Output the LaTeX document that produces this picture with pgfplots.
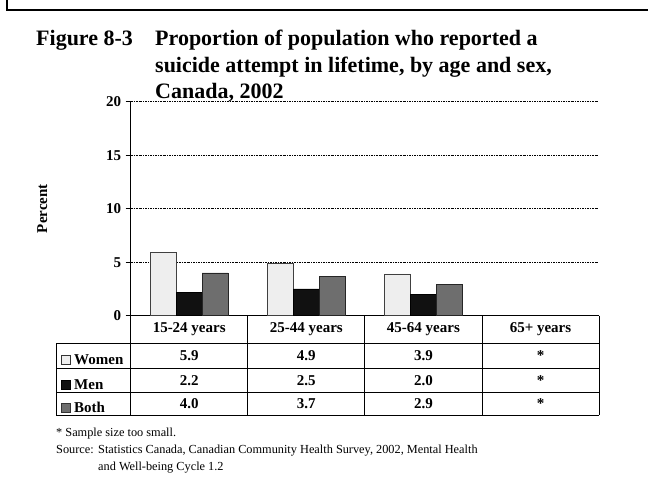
\documentclass[border=0pt]{standalone}
\usepackage{pgfplots}
\pgfplotsset{compat=1.18}
\usepackage{fontspec}
\setmainfont{Liberation Serif}
\definecolor{women}{HTML}{EEEEEE}
\definecolor{men}{HTML}{111111}
\definecolor{both}{HTML}{6E6E6E}
\newcommand{\tf}{\bfseries\fontsize{15bp}{17bp}\selectfont}
\newcommand{\ttl}{\bfseries\fontsize{22bp}{26bp}\selectfont}
\begin{document}
\begin{tikzpicture}[x=1bp,y=1bp]
\useasboundingbox (0,0) rectangle (648,489);
% frame
\draw[line width=1.6bp] (7,489) -- (7,479) -- (648,479);
% title
\node[anchor=base west,inner sep=0,font=\ttl] at (36,443) {Figure 8-3};
\node[anchor=base west,inner sep=0,font=\ttl] at (155,443) {Proportion of population who reported a};
\node[anchor=base west,inner sep=0,font=\ttl] at (155,416.5) {suicide attempt in lifetime, by age and sex,};
\node[anchor=base west,inner sep=0,font=\ttl] at (155,390) {Canada, 2002};
\begin{axis}[
  at={(130.7bp,173.3bp)}, anchor=south west,
  scale only axis, width=468.3bp, height=214bp,
  xmin=-0.5, xmax=3.5, ymin=0, ymax=20,
  axis x line*=bottom, axis y line*=left,
  axis line style={-, line width=0.9bp},
  xtick=\empty,
  ytick={0,5,10,15,20},
  tick align=outside, major tick length=5bp,
  tick style={black, line width=0.8bp},
  yticklabel style={font=\tf, xshift=-1bp},
  /pgf/number format/assume math mode=true,
  ymajorgrids,
  grid style={black, line width=0.7bp, dash pattern=on 2bp off 1bp on 0.8bp off 1bp},
  ylabel={Percent},
  ylabel style={font=\tf, at={(axis description cs:-0.189,0.5)}, anchor=center},
  ybar=0pt, bar width=26bp,
  clip=false,
]
\addplot[fill=women, draw=black!75, line width=0.7bp] coordinates {(0,5.9) (1,4.9) (2,3.9)};
\addplot[fill=men, draw=black, line width=0.7bp] coordinates {(0,2.2) (1,2.5) (2,2.0)};
\addplot[fill=both, draw=black!85, line width=0.7bp] coordinates {(0,4.0) (1,3.7) (2,2.9)};
\end{axis}
% data table
\begin{scope}[line width=0.8bp]
\draw (56,145.7) -- (599,145.7);
\draw (56,120.7) -- (599,120.7);
\draw (56,97) -- (599,97);
\draw (56,74) -- (599,74);
\draw (56,145.7) -- (56,74);
\foreach \xx in {130.7,247.8,364.85,481.9,599} \draw (\xx,173.3) -- (\xx,74);
\end{scope}
\foreach \xx/\lab in {189.2/15-24 years,306.3/25-44 years,423.4/45-64 years,540.5/65+ years}
  \node[font=\tf] at (\xx,159.5) {\lab};
\foreach \xx/\a/\b/\c in {189.2/5.9/2.2/4.0,306.3/4.9/2.5/3.7,423.4/3.9/2.0/2.9,540.5/*/*/*}{
  \node[font=\tf] at (\xx,133.2) {\a};
  \node[font=\tf] at (\xx,108.8) {\b};
  \node[font=\tf] at (\xx,85.5) {\c};
}
\draw[fill=women, draw=black!80, line width=0.6bp] (61,124.5) rectangle (70,133.5);
\draw[fill=men, draw=black, line width=0.6bp] (61,100) rectangle (70,109);
\draw[fill=both, draw=black!80, line width=0.6bp] (61,76.7) rectangle (70,85.7);
\node[font=\tf, anchor=west, inner sep=0] at (74,129) {Women};
\node[font=\tf, anchor=west, inner sep=0] at (74,104.5) {Men};
\node[font=\tf, anchor=west, inner sep=0] at (74,81.2) {Both};
% footnotes
\begin{scope}[every node/.style={anchor=base west, inner sep=0, font=\fontsize{12.3bp}{14bp}\selectfont}]
\node at (56,52) {* Sample size too small.};
\node at (56,35) {Source:};
\node at (98,35) {Statistics Canada, Canadian Community Health Survey, 2002, Mental Health};
\node at (98,18) {and Well-being Cycle 1.2};
\end{scope}
\end{tikzpicture}
\end{document}
